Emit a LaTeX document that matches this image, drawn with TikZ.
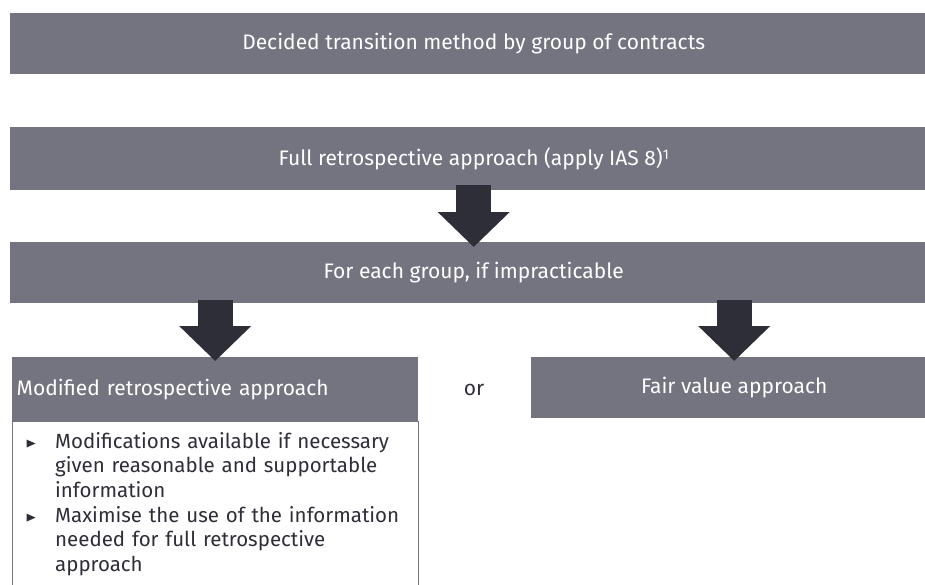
\documentclass[tikz,border=0pt]{standalone}
\usepackage{fontspec}
\setmainfont{Fira Sans}
\usetikzlibrary{arrows.meta,positioning}
\definecolor{eygrey}{HTML}{747480}
\definecolor{eydark}{HTML}{2E2E38}
\newcommand{\footmark}[1]{\raisebox{6pt}{\fontsize{14}{14}\selectfont #1}}

\begin{document}
\begin{tikzpicture}[x=1pt,y=1pt,
    greybox/.style={fill=eygrey, text=white, inner sep=0pt, anchor=north west,
        font=\fontsize{21}{24}\selectfont},
    blockarrow/.style={draw=eydark, line width=35pt,
        -{Triangle[width=70pt,length=35pt]}},
    bodytext/.style={text=eydark, inner sep=0pt, anchor=base west, align=left,
        text width=360pt, font=\fontsize{20.5}{24.7}\selectfont}]
    % Fix the page size
    \clip (0,0) rectangle (925,-584);

    % Draw the grey bars
    \node[greybox, minimum width=927pt, minimum height=61pt] (decided) at (10,-13)
        {Decided transition method by group of contracts};
    \node[greybox, minimum width=927pt, minimum height=63pt] (full) at (10,-127)
        {Full retrospective approach (apply IAS 8)\footmark{1}};
    \node[greybox, minimum width=927pt, minimum height=61pt] (each) at (10,-242)
        {For each group, if impracticable};

    % Two possible approaches
    \node[greybox, minimum height=64pt, text width=397pt, inner xsep=4.5pt, align=left]
        (modified) at (12,-357) {Modified retrospective approach};
    \node[greybox, minimum width=406pt, minimum height=61pt] (fair) at (531,-357)
        {Fair value approach};
    \node[text=eydark, font=\fontsize{21}{24}\selectfont] (or) at (474,-390) {or};

    % Box with the details
    \node[draw=eygrey, line width=0.8pt, minimum width=406pt, minimum height=200pt,
        inner sep=0pt, below=0pt of modified] (details) {};
    \foreach \i/\y/\txt in {1/-448/{Modifications available if necessary\\given reasonable and supportable\\information},
                            2/-522.1/{Maximise the use of the information\\needed for full retrospective\\approach}} {
        \node[bodytext] (item\i) at (55,\y) {\txt};
        \fill[eydark] (26.5,\y+8.5) -- (26.5,\y+0.5) -- (35.5,\y+4.5) -- cycle;
    }

    % Draw the block arrows
    \draw[blockarrow] ([yshift=5pt]full.south) -- ([yshift=-5pt]each.north);
    \draw[blockarrow] ([yshift=3pt]each.south -| modified.north) -- ([yshift=-4pt]modified.north);
    \draw[blockarrow] ([yshift=3pt]each.south -| fair.north) -- ([yshift=-4pt]fair.north);
\end{tikzpicture}
\end{document}
